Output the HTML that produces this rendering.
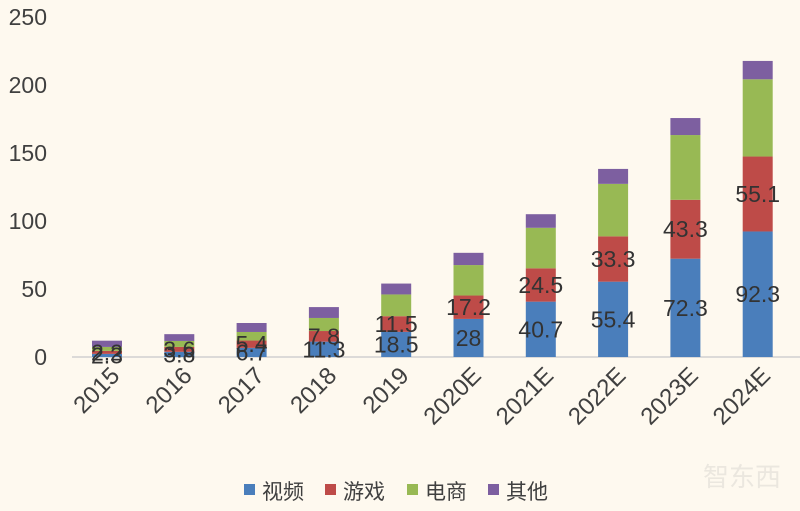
<!DOCTYPE html>
<html><head><meta charset="utf-8"><style>
body{margin:0;background:#fef9ef;}
svg{display:block;font-family:"Liberation Sans","Noto Sans CJK SC",sans-serif;}
</style></head><body>
<svg width="800" height="511" viewBox="0 0 800 511">
<rect width="800" height="511" fill="#fef9ef"/>
<g font-size="23" fill="#404040" text-anchor="end">
<text x="47" y="365">0</text>
<text x="47" y="297">50</text>
<text x="47" y="229">100</text>
<text x="47" y="161">150</text>
<text x="47" y="93">200</text>
<text x="47" y="25">250</text>
</g>
<line x1="72" y1="357" x2="800" y2="357" stroke="#d0d0d0" stroke-width="1.5"/>
<g id="bars"></g>
<g id="labels" font-size="23" fill="#333" text-anchor="middle"></g>
<g id="xl" font-size="24" fill="#404040" text-anchor="end"></g>
<g font-size="21" fill="#404040" font-family="'Noto Sans CJK SC',sans-serif">
<rect x="244" y="484" width="11" height="11" fill="#4a7ebb"/><text x="262" y="499">视频</text>
<rect x="325" y="484" width="11" height="11" fill="#be4b48"/><text x="343" y="499">游戏</text>
<rect x="407" y="484" width="11" height="11" fill="#98b954"/><text x="425" y="499">电商</text>
<rect x="488" y="484" width="11" height="11" fill="#7d5fa0"/><text x="506" y="499">其他</text>
</g>
<text x="742" y="486" font-size="26" fill="#ebe7df" text-anchor="middle" font-family="'Noto Sans CJK SC',sans-serif">智东西</text>
</svg>
<script>
var yrs=["2015","2016","2017","2018","2019","2020E","2021E","2022E","2023E","2024E"];
var v=[2.3,3.8,6.7,11.3,18.5,28,40.7,55.4,72.3,92.3];
var g=[2.2,3.6,5.4,7.8,11.5,17.2,24.5,33.3,43.3,55.1];
var e=[2.9,4.4,6.3,9.6,16,22.4,29.8,38.6,47.6,56.8];
var o=[4.6,5,6.6,8,8,9,10,11,12.5,13.5];
var cols=["#4a7ebb","#be4b48","#98b954","#7d5fa0"];
var ns="http://www.w3.org/2000/svg";
var B=document.getElementById("bars"),L=document.getElementById("labels"),X=document.getElementById("xl");
function el(t,a,p){var n=document.createElementNS(ns,t);for(var k in a)n.setAttribute(k,a[k]);p.appendChild(n);return n;}
for(var i=0;i<10;i++){
 var cx=107+i*72.3,base=0,s=[v[i],g[i],e[i],o[i]];
 for(var j=0;j<4;j++){
  var y1=357-(base+s[j])*1.36,h=s[j]*1.36;
  el("rect",{x:cx-15,y:y1,width:30,height:h,fill:cols[j]},B);
  if(j<2){var t=el("text",{x:cx,y:y1+h/2+8},L);t.textContent=s[j];}
  base+=s[j];
 }
 var px=cx+14,py=377;
 var tx=el("text",{x:px,y:py,transform:"rotate(-45 "+px+" "+py+")"},X);tx.textContent=yrs[i];
}
</script>
</body></html>
